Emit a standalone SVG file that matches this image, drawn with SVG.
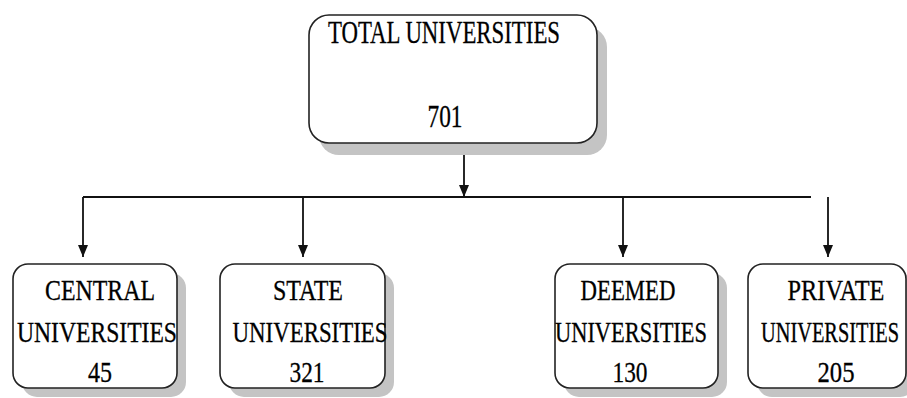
<svg xmlns="http://www.w3.org/2000/svg" width="907" height="398" viewBox="0 0 907 398">
<defs>
<style>
.box{fill:#fff;stroke:#222;stroke-width:1.6}
.sh{fill:#c4c4c4}
.t{font-family:"Liberation Serif","Times New Roman",serif;font-size:30px;fill:#000;stroke:#000;stroke-width:0.3;text-anchor:middle}
.big{font-size:32px}
.ln{stroke:#111;stroke-width:1.8;fill:none}
</style>
<marker id="ah" markerWidth="12" markerHeight="10" refX="12" refY="5" orient="auto" markerUnits="userSpaceOnUse" viewBox="0 0 12 10">
<path d="M0,0 L12,5 L0,10 Z" fill="#111"/>
</marker>
</defs>
<rect width="907" height="398" fill="#fff"/>
<g id="connectors">
<line class="ln" x1="464" y1="143" x2="464" y2="197" marker-end="url(#ah)"/>
<line class="ln" x1="83" y1="197" x2="811" y2="197"/>
<line class="ln" x1="83" y1="197" x2="83" y2="257" marker-end="url(#ah)"/>
<line class="ln" x1="303" y1="197" x2="303" y2="257" marker-end="url(#ah)"/>
<line class="ln" x1="623" y1="197" x2="623" y2="257" marker-end="url(#ah)"/>
<line class="ln" x1="828" y1="197" x2="828" y2="257" marker-end="url(#ah)"/>
</g>
<g id="total">
<rect class="sh" x="319" y="27" width="288" height="128" rx="20"/>
<rect class="box" x="309" y="15" width="288" height="128" rx="20"/>
<text class="t big" x="444" y="43" textLength="232" lengthAdjust="spacingAndGlyphs">TOTAL UNIVERSITIES</text>
<text class="t big" x="445" y="127" textLength="35" lengthAdjust="spacingAndGlyphs">701</text>
</g>
<g id="central">
<rect class="sh" x="22" y="273" width="164" height="124" rx="15"/>
<rect class="box" x="13" y="264" width="164" height="124" rx="15"/>
<text class="t" x="100" y="300" textLength="110" lengthAdjust="spacingAndGlyphs">CENTRAL</text>
<text class="t" x="97" y="342" textLength="160" lengthAdjust="spacingAndGlyphs">UNIVERSITIES</text>
<text class="t" x="100" y="382" textLength="24" lengthAdjust="spacingAndGlyphs">45</text>
</g>
<g id="state">
<rect class="sh" x="229" y="273" width="165" height="124" rx="15"/>
<rect class="box" x="220" y="264" width="165" height="124" rx="15"/>
<text class="t" x="308" y="300" textLength="70" lengthAdjust="spacingAndGlyphs">STATE</text>
<text class="t" x="310" y="342" textLength="155" lengthAdjust="spacingAndGlyphs">UNIVERSITIES</text>
<text class="t" x="307" y="382" textLength="35" lengthAdjust="spacingAndGlyphs">321</text>
</g>
<g id="deemed">
<rect class="sh" x="564" y="273" width="163" height="124" rx="15"/>
<rect class="box" x="555" y="264" width="163" height="124" rx="15"/>
<text class="t" x="628" y="300" textLength="95" lengthAdjust="spacingAndGlyphs">DEEMED</text>
<text class="t" x="631" y="342" textLength="152" lengthAdjust="spacingAndGlyphs">UNIVERSITIES</text>
<text class="t" x="630" y="382" textLength="35" lengthAdjust="spacingAndGlyphs">130</text>
</g>
<g id="private">
<rect class="sh" x="757" y="273" width="158" height="124" rx="15"/>
<rect class="box" x="748" y="264" width="158" height="124" rx="15"/>
<text class="t" x="836" y="300" textLength="97" lengthAdjust="spacingAndGlyphs">PRIVATE</text>
<text class="t" transform="translate(830,342) scale(1,1.36)" x="0" y="0" style="font-size:22px;stroke-width:0.25" textLength="138" lengthAdjust="spacingAndGlyphs">UNIVERSITIES</text>
<text class="t" x="836" y="382" textLength="37" lengthAdjust="spacingAndGlyphs">205</text>
</g>
</svg>
